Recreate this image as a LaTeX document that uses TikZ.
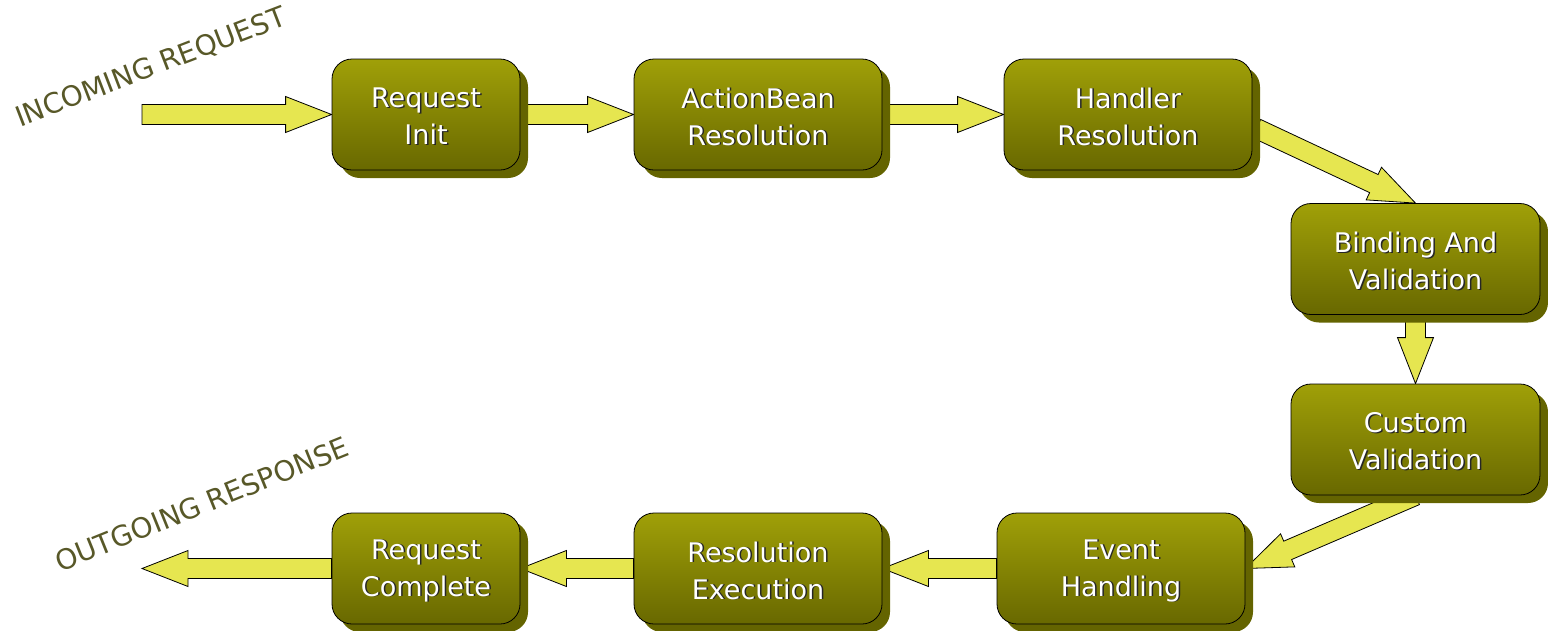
\documentclass[tikz,border=0pt]{standalone}
\usepackage{fontspec}
\setmainfont{DejaVu Sans}
\usetikzlibrary{calc,shadows,backgrounds}
\definecolor{olivetop}{RGB}{160,160,8}
\definecolor{olivebot}{RGB}{104,104,0}
\definecolor{oliveshade}{RGB}{100,100,0}
\definecolor{arrowfill}{RGB}{230,230,80}
\definecolor{labeltext}{RGB}{88,88,40}

\tikzset{
  stagebox/.style={rounded corners=20pt, draw=black, line width=0.8pt,
    top color=olivetop, bottom color=olivebot, minimum height=111pt,
    drop shadow={shadow xshift=8pt, shadow yshift=-8pt, fill=oliveshade, opacity=1}},
  stagetext/.style={align=center, text=white, inner sep=0pt,
    font=\fontsize{27}{37}\selectfont},
  blockarrow/.style={draw=black, line width=0.8pt, fill=arrowfill, line join=miter},
  flowlabel/.style={text=labeltext, font=\fontsize{28}{32}\selectfont}
}

% one stage: box, text shadow, text
\newcommand\stage[4]{%
  \node[stagebox, minimum width=#3] (#1) at (#2) {};
  \node[stagetext, text=black!85] (#1-s) at ([shift={(1.5pt,-2.5pt)}]#1.center) {#4};
  \node[stagetext] (#1-t) at ([shift={(0pt,-2pt)}]#1.center) {#4};
}

% fat block arrow from #1 to #2
\newcommand\bigarrow[2]{%
  \draw[blockarrow] let \p1=(#1), \p2=(#2),
    \n1={atan2(\y2-\y1,\x2-\x1)}, \n2={veclen(\x2-\x1,\y2-\y1)} in
    [shift={(\p1)}, rotate=\n1]
    (0pt,10pt) -- ({\n2*1pt-46pt},10pt) -- ({\n2*1pt-46pt},18pt) -- ({\n2*1pt},0pt)
    -- ({\n2*1pt-46pt},-18pt) -- ({\n2*1pt-46pt},-10pt) -- (0pt,-10pt) -- cycle;}

\begin{document}
\begin{tikzpicture}[x=1pt, y=-1pt]
\useasboundingbox (0,0) rectangle (1548,630);

% top row
\stage{init}{426,114.5}{188pt}{Request\\Init}
\stage{bean}{758,114.5}{248pt}{ActionBean\\Resolution}
\stage{hand}{1128,114.5}{248pt}{Handler\\Resolution}

% right column
\stage{bind}{1415.5,259}{249pt}{Binding And\\Validation}
\stage{cust}{1415.5,439.5}{249pt}{Custom\\Validation}

% bottom row
\stage{event}{1121,568.5}{248pt}{Event\\Handling}
\stage{exec}{758,568.5}{248pt}{Resolution\\Execution}
\stage{done}{426,568.5}{188pt}{Request\\Complete}

% free ends
\coordinate (in) at (142,114.5);
\coordinate (out) at (142,568.5);
\coordinate (handout) at ([shift={(4,14)}]hand.east);

% labels
\node[flowlabel, rotate=21] (inlabel) at (151,68) {INCOMING REQUEST};
\node[flowlabel, rotate=22] (outlabel) at (202,504) {OUTGOING RESPONSE};

% arrows
\begin{pgfonlayer}{background}
\bigarrow{in}{init.west}
\bigarrow{init.east}{bean.west}
\bigarrow{bean.east}{hand.west}
\bigarrow{handout}{bind.north}
\bigarrow{bind.south}{cust.north}
\bigarrow{cust.south}{event.east}
\bigarrow{event.west}{exec.east}
\bigarrow{exec.west}{done.east}
\bigarrow{done.west}{out}
\end{pgfonlayer}
\end{tikzpicture}
\end{document}
